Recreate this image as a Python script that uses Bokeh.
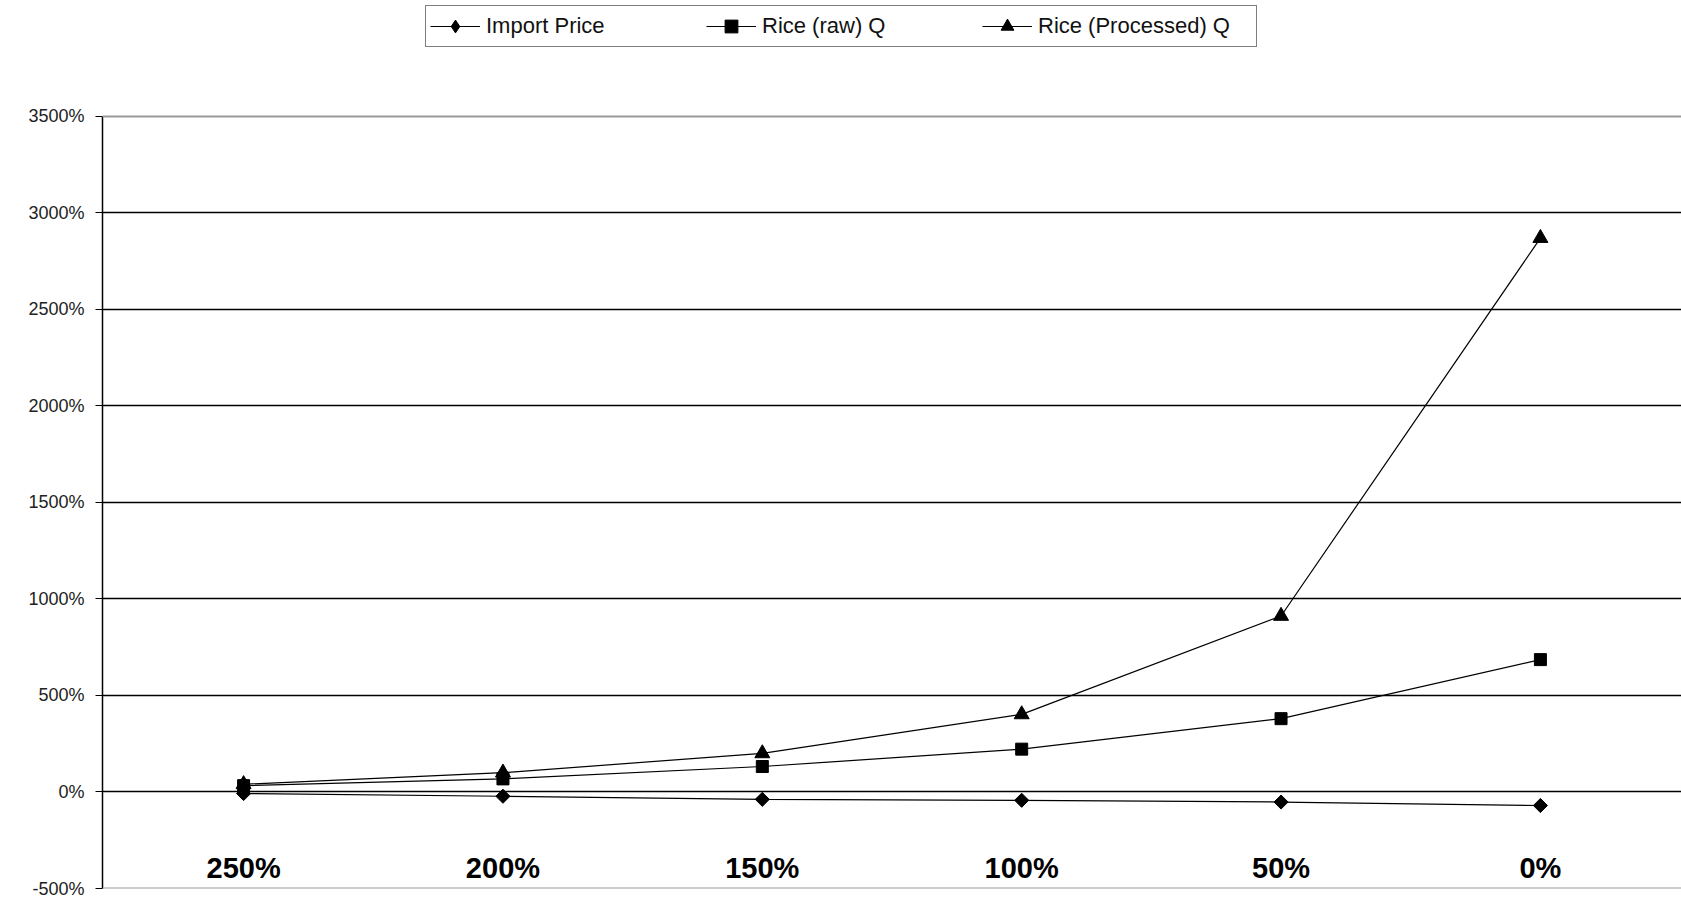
import math
from bokeh.plotting import figure
from bokeh.models import (Range1d, FixedTicker, PrintfTickFormatter, Span,
                          Legend, ColumnDataSource)
from bokeh.core.properties import value
from bokeh.embed import file_html
from bokeh.resources import INLINE

# Tariff scenarios (category axis) and percentage changes per series
categories = ["250%", "200%", "150%", "100%", "50%", "0%"]
import_price = [-8, -22, -38, -43, -52, -70]
rice_raw_q = [33, 68, 132, 222, 380, 686]
rice_processed_q = [40, 100, 200, 402, 912, 2870]

y_ticks = [-500, 0, 500, 1000, 1500, 2000, 2500, 3000, 3500]
inner_grid = [0, 500, 1000, 1500, 2000, 2500, 3000]
category_label_level = -396

# the frame runs up to the top of the canvas so the legend can sit above the
# value range; the extra headroom is kept free of ticks and grid lines
headroom_top = 4101

xs = list(range(len(categories)))

p = figure(width=1681, height=900, output_backend="svg", toolbar_location=None,
           x_range=Range1d(-0.544, len(categories) - 1 + 0.544),
           y_range=Range1d(y_ticks[0], headroom_top),
           min_border_left=102, min_border_right=0,
           min_border_top=0, min_border_bottom=12)
p.outline_line_color = None
p.background_fill_color = "white"
p.border_fill_color = "white"

# category axis is drawn as text inside the plot area
p.xaxis.visible = False
p.xgrid.visible = False

p.yaxis.ticker = FixedTicker(ticks=y_ticks)
p.yaxis.bounds = (y_ticks[0], y_ticks[-1])
p.yaxis.formatter = PrintfTickFormatter(format="%d%%")
p.yaxis.axis_line_color = "black"
p.yaxis.axis_line_width = 1.5
p.yaxis.major_tick_line_color = "black"
p.yaxis.major_tick_out = 7
p.yaxis.major_tick_in = 0
p.yaxis.minor_tick_line_color = None
p.yaxis.major_label_standoff = 11
p.yaxis.major_label_text_font = "Liberation Sans"
p.yaxis.major_label_text_font_size = "18px"
p.yaxis.major_label_text_color = "#222222"

p.ygrid.ticker = FixedTicker(ticks=inner_grid)
p.ygrid.grid_line_color = "black"
p.ygrid.grid_line_width = 1.5
# lighter rules along the top and bottom of the value range
for edge in (y_ticks[0], y_ticks[-1]):
    p.add_layout(Span(location=edge, dimension="width",
                      line_color="#9a9a9a", line_width=2))

src = ColumnDataSource(dict(x=xs, cat=categories, imp=import_price,
                            raw=rice_raw_q, proc=rice_processed_q,
                            ly=[category_label_level] * len(categories)))

r1 = p.line("x", "imp", source=src, line_color="black", line_width=1.2)
# narrow diamond provides the legend swatch; in the plot it sits inside the
# wider rhombus drawn on top of it
k1 = p.scatter("x", "imp", source=src, marker="diamond", size=12,
               fill_color="black", line_color="black")
m1 = p.scatter("x", "imp", source=src, marker="square", angle=math.pi / 4,
               size=10, fill_color="black", line_color="black")
r2 = p.line("x", "raw", source=src, line_color="black", line_width=1.2)
m2 = p.scatter("x", "raw", source=src, marker="square", size=12,
               fill_color="black", line_color="black")
r3 = p.line("x", "proc", source=src, line_color="black", line_width=1.2)
m3 = p.scatter("x", "proc", source=src, marker="triangle", size=15,
               fill_color="black", line_color="black")

p.text("x", "ly", text="cat", source=src, text_align="center",
       text_baseline="alphabetic", text_font=value("Liberation Sans"),
       text_font_style="bold", text_font_size="29px", text_color="black")

legend = Legend(items=[("Import Price", [r1, k1]),
                       ("Rice (raw) Q", [r2, m2]),
                       ("Rice (Processed) Q", [r3, m3])],
                orientation="horizontal", location=(323, 841),
                glyph_width=50, glyph_height=32, label_standoff=6,
                label_width=214, spacing=6, padding=4, margin=0,
                border_line_color="black", border_line_width=1.5,
                background_fill_color="white", background_fill_alpha=1,
                label_text_font="Liberation Sans", label_text_font_size="22px",
                label_text_color="#111111")
p.add_layout(legend, "center")

open("out.html", "w").write(file_html(p, INLINE))
